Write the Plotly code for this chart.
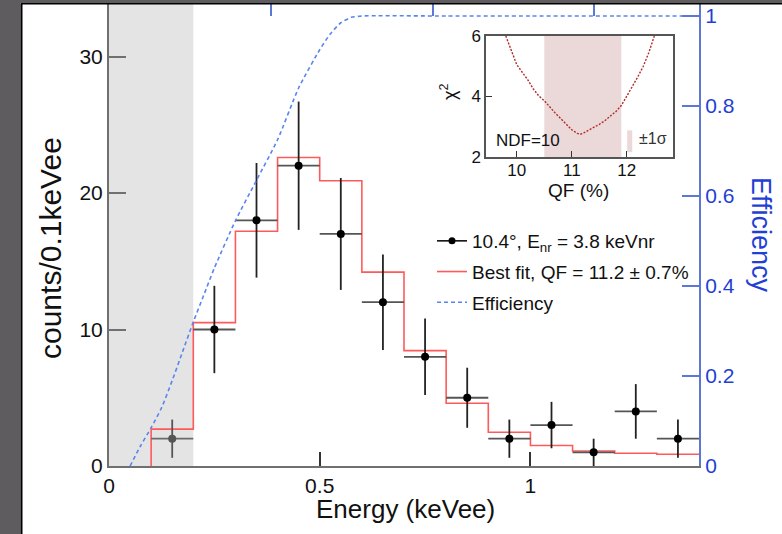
import plotly.graph_objects as go

# ---------------- data ----------------
bin_centers = [0.15, 0.25, 0.35, 0.45, 0.55, 0.65, 0.75, 0.85, 0.95, 1.05, 1.15, 1.25, 1.35]
bin_width = 0.1
counts = [2, 10, 18, 22, 17, 12, 8, 5, 2, 3, 1, 4, 2]
count_err = [1.4, 3.2, 4.2, 4.7, 4.1, 3.5, 2.8, 2.2, 1.4, 1.7, 1.0, 2.0, 1.4]
best_fit = [2.7, 10.5, 17.2, 22.6, 20.9, 14.2, 8.45, 4.6, 2.47, 1.5, 1.1, 0.93, 0.86]

eff_x = [0.05, 0.075, 0.10, 0.125, 0.15, 0.175, 0.20, 0.225, 0.25, 0.30, 0.35, 0.40,
         0.45, 0.50, 0.525, 0.55, 0.575, 0.60, 0.80, 1.00, 1.20, 1.40]
eff_y = [0.0, 0.045, 0.085, 0.13, 0.19, 0.255, 0.32, 0.38, 0.44, 0.545, 0.635, 0.725,
         0.84, 0.925, 0.96, 0.985, 0.997, 1.0, 1.0, 1.0, 1.0, 1.0]

threshold = [0.0, 0.2]  # shaded region (keVee)

qf_vals = [9.8, 9.9, 10.0, 10.1, 10.2, 10.3, 10.4, 10.5, 10.6, 10.7, 10.8, 10.9, 11.0,
           11.1, 11.15, 11.2, 11.3, 11.4, 11.5, 11.6, 11.7, 11.8, 11.9, 12.0, 12.1,
           12.2, 12.3, 12.4, 12.5]
chi2_vals = [6.0, 5.5, 5.05, 4.8, 4.55, 4.25, 4.02, 3.86, 3.65, 3.45, 3.27, 3.08, 2.9,
             2.78, 2.75, 2.78, 2.88, 2.97, 3.08, 3.2, 3.35, 3.5, 3.7, 4.0, 4.33,
             4.65, 5.0, 5.45, 6.0]
qf_best = 11.2
qf_err = 0.7

x_ticks = [0, 0.5, 1]
x_ticktext = ["0", "0.5", "1"]
y_ticks = [0, 10, 20, 30]
eff_ticks = [0, 0.2, 0.4, 0.6, 0.8, 1.0]
eff_ticktext = ["0", "0.2", "0.4", "0.6", "0.8", "1"]
top_ticks = [0, 0.384, 0.768, 1.152]

# ---------------- style ----------------
FONT = "Liberation Sans, Arial, Helvetica, sans-serif"
GREY = "#707070"
BLUE_LINE = "#5b78d6"
BLUE_TXT = "#1f3fd6"
RED = "#ff5a5a"
EFF_BLUE = "#5a85f0"

W, H = 782, 534
L, R, T, B = 109, 83, 4, 68
PW, PH = W - L - R, H - T - B


def px(p):
    return (p - L) / PW


def py(p):
    return (H - B - p) / PH


edges = [c - bin_width / 2 for c in bin_centers] + [bin_centers[-1] + bin_width / 2]
step_x = [edges[0]] + edges
step_y = [0] + best_fit + [best_fit[-1]]

fig = go.Figure()

# efficiency (right axis)
fig.add_trace(go.Scatter(
    x=eff_x, y=eff_y, mode="lines", yaxis="y3", line_shape="spline",
    line=dict(color=EFF_BLUE, width=1.6, dash="4px,3px", smoothing=0.6),
    showlegend=False, hoverinfo="skip"))

# best fit histogram
fig.add_trace(go.Scatter(
    x=step_x, y=step_y, mode="lines", line_shape="hv",
    line=dict(color=RED, width=1.6), showlegend=False))

# data points (first one inside threshold region, grey)
fig.add_trace(go.Scatter(
    x=bin_centers[:1], y=counts[:1], mode="markers",
    marker=dict(color="#555555", size=8),
    error_x=dict(type="constant", value=bin_width / 2, color="#6a6a6a", thickness=1.8, width=0),
    error_y=dict(type="data", array=count_err[:1], color="#555555", thickness=1.8, width=0),
    showlegend=False))
fig.add_trace(go.Scatter(
    x=bin_centers[1:], y=counts[1:], mode="markers",
    marker=dict(color="black", size=8),
    error_x=dict(type="constant", value=bin_width / 2, color="#555555", thickness=1.8, width=0),
    error_y=dict(type="data", array=count_err[1:], color="#222222", thickness=1.8, width=0),
    showlegend=False))

# legend entries
fig.add_trace(go.Scatter(
    x=[None], y=[None], mode="lines+markers", legendgroup="a",
    line=dict(color="black", width=1.5), marker=dict(color="black", size=7),
    name="10.4°, E<sub>nr</sub> = 3.8 keVnr"))
fig.add_trace(go.Scatter(
    x=[None], y=[None], mode="lines", legendgroup="b",
    line=dict(color=RED, width=1.6),
    name="Best fit, QF = 11.2 ± 0.7%"))
fig.add_trace(go.Scatter(
    x=[None], y=[None], mode="lines", legendgroup="c",
    line=dict(color=EFF_BLUE, width=1.6, dash="4px,3px"),
    name="Efficiency"))

# inset chi2 curve
fig.add_trace(go.Scatter(
    x=qf_vals, y=chi2_vals, mode="lines", xaxis="x2", yaxis="y2",
    line=dict(color="#b22a2a", width=1.4, dash="2px,1.5px"), showlegend=False))

# top tick axis anchor trace
fig.add_trace(go.Scatter(x=[None], y=[None], xaxis="x3", yaxis="y", showlegend=False))

shapes = [
    # threshold shading
    dict(type="rect", xref="x", yref="paper", x0=threshold[0], x1=threshold[1],
         y0=0, y1=1, fillcolor="#e4e4e4", line=dict(width=0), layer="below"),
    # 1 sigma band in inset
    dict(type="rect", xref="x2", yref="y2 domain", x0=qf_best - qf_err, x1=qf_best + qf_err,
         y0=0, y1=1, fillcolor="#ebd9d9", line=dict(width=0), layer="below"),
    # small legend box for the band
    dict(type="rect", xref="x2 domain", yref="y2 domain", x0=0.755, x1=0.782,
         y0=0.04, y1=0.22, fillcolor="#ebd9d9", line=dict(width=0)),
    # screenshot frame
    dict(type="rect", xref="paper", yref="paper", x0=px(0), x1=px(20.5),
         y0=py(H), y1=py(0), fillcolor="#5e5c5f", line=dict(width=0)),
    dict(type="rect", xref="paper", yref="paper", x0=px(0), x1=px(W),
         y0=py(3), y1=py(0), fillcolor="#5e5c5f", line=dict(width=0)),
    dict(type="line", xref="paper", yref="paper", x0=px(21.5), x1=px(21.5),
         y0=py(H), y1=py(3.5), line=dict(color="black", width=2)),
    dict(type="line", xref="paper", yref="paper", x0=px(21), x1=px(W),
         y0=py(3.7), y1=py(3.7), line=dict(color="black", width=1.6)),
]

C = dict(xanchor="center", yanchor="middle", showarrow=False)
annotations = [
    dict(text="counts/0.1keVee", xref="paper", yref="paper", x=px(50), y=py(248),
         textangle=-90, font=dict(size=30, color="#111", family=FONT), **C),
    dict(text="Energy (keVee)", xref="paper", yref="paper", x=px(406), y=py(509),
         font=dict(size=26, color="#111", family=FONT), **C),
    dict(text="Efficiency", xref="paper", yref="paper", x=px(761), y=py(235),
         textangle=90, font=dict(size=27, color=BLUE_TXT, family=FONT), **C),
    dict(text="χ<sup>2</sup>", xref="paper", yref="paper", x=px(448), y=py(92),
         textangle=-90, font=dict(size=18, color="#111", family=FONT), **C),
    dict(text="QF (%)", xref="paper", yref="paper", x=px(578), y=py(190),
         font=dict(size=19, color="#111", family=FONT), **C),
    dict(text="NDF=10", xref="x2 domain", yref="y2 domain", x=0.045, y=0.14,
         xanchor="left", yanchor="middle", showarrow=False,
         font=dict(size=17, color="#111", family=FONT)),
    dict(text="±1σ", xref="x2 domain", yref="y2 domain", x=0.81, y=0.15,
         xanchor="left", yanchor="middle", showarrow=False,
         font=dict(size=16, color="#333", family=FONT)),
]

fig.update_layout(
    width=W, height=H,
    margin=dict(l=L, r=R, t=T, b=B, autoexpand=False),
    paper_bgcolor="white", plot_bgcolor="rgba(0,0,0,0)",
    font=dict(family=FONT, color="#111"),
    xaxis=dict(range=[0, 1.4], tickvals=x_ticks, ticktext=x_ticktext, automargin=False,
               ticks="inside", ticklen=14, tickwidth=1.5, tickcolor="#333",
               showline=True, linecolor=GREY, linewidth=2, showgrid=False, zeroline=False,
               tickfont=dict(size=21, color="#111")),
    yaxis=dict(range=[0, PH / 13.65], tickvals=y_ticks, automargin=False,
               ticks="inside", ticklen=17, tickwidth=1.5, tickcolor=GREY,
               showline=True, linecolor=GREY, linewidth=2, showgrid=False, zeroline=False,
               tickfont=dict(size=21, color="#111")),
    yaxis3=dict(range=[0, PH / 450], overlaying="y", side="right", anchor="x",
                tickvals=eff_ticks, ticktext=eff_ticktext, automargin=False,
                ticks="inside", ticklen=17, tickwidth=1.5, tickcolor=BLUE_LINE,
                showline=True, linecolor=BLUE_LINE, linewidth=2, showgrid=False, zeroline=False,
                tickfont=dict(size=21, color=BLUE_TXT)),
    xaxis3=dict(range=[0, 1.4], overlaying="x", side="top", anchor="y", automargin=False,
                tickvals=top_ticks, ticktext=["", "", "", ""], ticks="inside", ticklen=12,
                tickwidth=1.5, tickcolor=BLUE_LINE, showline=False, showgrid=False,
                zeroline=False),
    xaxis2=dict(domain=[px(486), px(673)], anchor="y2", range=[9.44, 12.84], automargin=False,
                tickvals=[10, 11, 12], ticks="inside", ticklen=6, tickcolor="#333",
                ticklabelstandoff=-3,
                showline=True, mirror=True, linecolor="#555", linewidth=1.5,
                showgrid=False, zeroline=False, tickfont=dict(size=17, color="#111")),
    yaxis2=dict(domain=[py(157), py(36)], anchor="x2", range=[2, 6], automargin=False,
                tickvals=[2, 4, 6], ticks="inside", ticklen=6, tickcolor="#333",
                showline=True, mirror=True, linecolor="#555", linewidth=1.5,
                showgrid=False, zeroline=False, tickfont=dict(size=17, color="#111")),
    legend=dict(x=px(432), y=py(222), xanchor="left", yanchor="top",
                bgcolor="rgba(0,0,0,0)", font=dict(size=19, color="#111", family=FONT),
                tracegroupgap=3, traceorder="grouped"),
    shapes=shapes,
    annotations=annotations,
)

fig.write_html("out.html")
